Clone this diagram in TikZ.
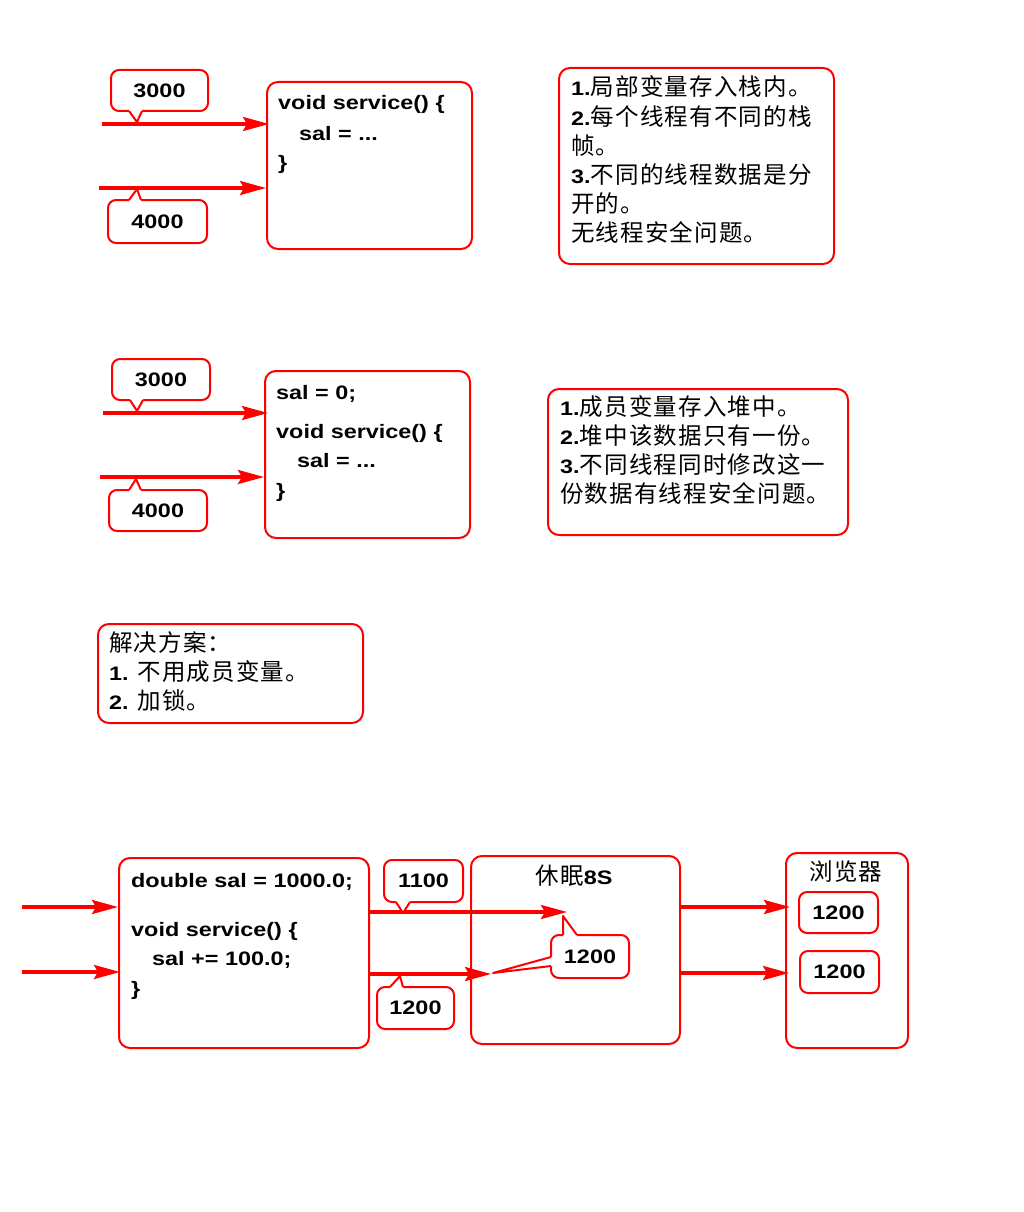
\documentclass[tikz,border=0pt]{standalone}
\usepackage{fontspec}
\setmainfont{Liberation Sans}[FakeStretch=1.2,BoldFeatures={FakeStretch=1.2}]
\newfontfamily\latin{Liberation Sans}[FakeStretch=1.2,BoldFeatures={FakeStretch=1.2}]
\newfontfamily\cjk{Noto Sans CJK SC}[LetterSpace=5]
\usetikzlibrary{arrows.meta}
\definecolor{lred}{RGB}{255,0,0}
\newcommand\codefnt{\fontsize{19.5}{23}\selectfont\latin\bfseries}
\newcommand\cjkfnt{\fontsize{23.5}{29}\selectfont\cjk}
\newcommand\lnum[1]{{\codefnt #1}}
% pointer of a callout: base x1,x2 on edge y, covered down to y-inner, tip
\newcommand\ptr[6]{%
  \fill[white] (#1,#4) -- (#1,#3) -- (#5,#6) -- (#2,#3) -- (#2,#4) -- cycle;
  \draw[lred,line width=2pt,line join=round] (#1,#3) -- (#5,#6) -- (#2,#3);}
\tikzset{
  frame/.style={draw=lred, line width=2pt, rounded corners=11pt, fill=white,
    anchor=north west, inner sep=0pt},
  tag/.style={draw=lred, line width=2pt, rounded corners=8pt, fill=white,
    inner sep=0pt, font=\codefnt},
  flow/.style={draw=lred, line width=3.2pt,
    -{Stealth[length=26pt,width=14pt,inset=4pt]}},
  code/.style={anchor=base west, inner sep=0pt, font=\codefnt},
  note/.style={anchor=base west, inner sep=0pt, font=\cjkfnt},
}
\begin{document}
\begin{tikzpicture}[x=1pt,y=-1pt]
\useasboundingbox[fill=white] (0,0) rectangle (1024,1212);

% ---------- part 1: local variable ----------
\node[frame, minimum width=205pt, minimum height=167pt] (code1) at (266,81) {};
\node[code] (c1a) at (278,110) {void service() \{};
\node[code] (c1b) at (299,140) {sal = ...};
\node[code] (c1c) at (278,169) {\}};

\coordinate (s1a) at (102,124);
\coordinate (s1b) at (99,188);
\draw[flow] (s1a) -- ([xshift=3pt]code1.west |- s1a);
\draw[flow] (s1b) -- (code1.west |- s1b);

\node[tag, minimum width=97pt, minimum height=41pt] (t1a) at (159.5,90.5) {3000};
\ptr{129}{142}{111}{108}{137}{122}
\node[tag, minimum width=99pt, minimum height=43pt] (t1b) at (157.5,221.5) {4000};
\ptr{129}{141}{200}{203}{137}{189}

\node[frame, minimum width=275pt, minimum height=196pt] (info1) at (558,67) {};
\node[note] (n1a) at (571,96) {\lnum{1.}局部变量存入栈内。};
\node[note] (n1b) at (571,125) {\lnum{2.}每个线程有不同的栈};
\node[note] (n1c) at (571,154) {帧。};
\node[note] (n1d) at (571,183) {\lnum{3.}不同的线程数据是分};
\node[note] (n1e) at (571,212) {开的。};
\node[note] (n1f) at (571,241) {无线程安全问题。};

% ---------- part 2: member variable ----------
\node[frame, minimum width=205pt, minimum height=167pt] (code2) at (264,370) {};
\node[code] (c2a) at (276,399) {sal = 0;};
\node[code] (c2b) at (276,438) {void service() \{};
\node[code] (c2c) at (297,467) {sal = ...};
\node[code] (c2d) at (276,497) {\}};

\coordinate (s2a) at (103,413);
\coordinate (s2b) at (100,477);
\draw[flow] (s2a) -- ([xshift=4pt]code2.west |- s2a);
\draw[flow] (s2b) -- (code2.west |- s2b);

\node[tag, minimum width=98pt, minimum height=41pt] (t2a) at (161,379.5) {3000};
\ptr{130}{143}{400}{397}{137}{411}
\node[tag, minimum width=98pt, minimum height=41pt] (t2b) at (158,510.5) {4000};
\ptr{129}{141}{490}{493}{136}{479}

\node[frame, minimum width=300pt, minimum height=146pt] (info2) at (547,388) {};
\node[note] (n2a) at (560,415) {\lnum{1.}成员变量存入堆中。};
\node[note] (n2b) at (560,444) {\lnum{2.}堆中该数据只有一份。};
\node[note] (n2c) at (560,473) {\lnum{3.}不同线程同时修改这一};
\node[note] (n2d) at (560,502) {份数据有线程安全问题。};

% ---------- part 3: remedy ----------
\node[frame, minimum width=265pt, minimum height=99pt] (fix) at (97,623) {};
\node[note] (f1) at (109,651) {解决方案：};
\node[note] (f2) at (109,680) {\lnum{1. }不用成员变量。};
\node[note] (f3) at (109,709) {\lnum{2. }加锁。};

% ---------- part 4: race on the shared field ----------
\node[frame, minimum width=250pt, minimum height=190pt] (code4) at (118,857) {};
\node[code] (c4a) at (131,887) {double sal = 1000.0;};
\node[code] (c4b) at (131,936) {void service() \{};
\node[code] (c4c) at (152,965) {sal += 100.0;};
\node[code] (c4d) at (131,995) {\}};

\node[frame, minimum width=209pt, minimum height=188pt] (sleep) at (470,855) {};
\node[anchor=base, inner sep=0pt, font=\cjkfnt] (sleept) at (574,884) {休眠\lnum{8S}};

\node[frame, minimum width=122pt, minimum height=195pt] (browser) at (785,852) {};
\node[anchor=base, inner sep=0pt, font=\cjkfnt] (browsert) at (846,880) {浏览器};
\node[tag, minimum width=79pt, minimum height=41pt] (r1) at (838.5,912.5) {1200};
\node[tag, minimum width=79pt, minimum height=42pt] (r2) at (839.5,972) {1200};

\coordinate (i1) at (22,907);
\coordinate (i2) at (22,972);
\draw[flow] (i1) -- (code4.west |- i1);
\draw[flow] (i2) -- ([xshift=2pt]code4.west |- i2);

\coordinate (e1) at (567,912);
\coordinate (e2) at (491,974);
\draw[flow] (code4.east |- e1) -- (e1);
\draw[flow] (code4.east |- e2) -- (e2);

\coordinate (b1) at (0,907);
\coordinate (b2) at (0,973);
\draw[flow] (sleep.east |- b1) -- ([xshift=5pt]browser.west |- b1);
\draw[flow] ([xshift=-2pt]sleep.east |- b2) -- ([xshift=4pt]browser.west |- b2);

\node[tag, minimum width=79pt, minimum height=42pt] (t4a) at (423.5,881) {1100};
\ptr{396}{410}{902}{899}{403}{913}
\node[tag, minimum width=77pt, minimum height=42pt] (t4b) at (415.5,1008) {1200};
\ptr{390}{403}{987}{990}{400}{976}

\node[tag, minimum width=78pt, minimum height=43pt] (t4c) at (590,956.5) {1200};
\ptr{563}{577}{935}{938}{563}{916}
\fill[white] (554,957) -- (551,957) -- (493,973) -- (551,966) -- (554,966) -- cycle;
\draw[lred,line width=2pt,line join=round] (551,957) -- (493,973) -- (551,966);
\end{tikzpicture}
\end{document}
